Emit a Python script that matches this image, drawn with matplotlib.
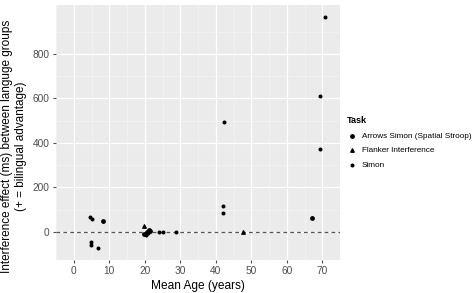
import numpy as np
import matplotlib.pyplot as plt

plt.rcParams['font.family'] = ['Liberation Sans', 'DejaVu Sans']

# data
arrows_age = [8.1, 19.8, 20.6, 21.2, 21.6, 67.0]
arrows_eff = [51, -8, 2, 9, 4, 61]

flanker_age = [19.9, 47.8]
flanker_eff = [28, -1]

simon_age = [4.7, 5.1, 4.9, 4.9, 6.9, 20.3, 21.0, 24.1, 25.0, 28.7, 42.4, 42.1, 42.1, 69.3, 69.3, 70.9]
simon_eff = [69, 60, -44, -58, -73, -12, -4, 0, -1, 2, 496, 115, 87, 613, 372, 968]

xticks = [0, 10, 20, 30, 40, 50, 60, 70]
yticks = [0, 200, 400, 600, 800]

fig = plt.figure(figsize=(4.76, 2.93), dpi=100)
ax = fig.add_axes([56 / 476, 33 / 293, 284 / 476, 255 / 293])
ax.set_facecolor('#EBEBEB')
for s in ax.spines.values():
    s.set_visible(False)

ax.set_xlim(-3.3, 74.5)
ax.set_ylim(-126, 1020)
ax.set_xticks(xticks)
ax.set_yticks(yticks)
ax.set_xticks([-5 + 10 * i for i in range(9)], minor=True)
ax.set_yticks([100, 300, 500, 700, 900], minor=True)
ax.grid(True, which='major', color='white', lw=0.9)
ax.grid(True, which='minor', color='#F5F5F5', lw=0.5)
ax.set_axisbelow(True)
ax.tick_params(which='major', length=2.5, color='#4D4D4D', labelsize=7.3, labelcolor='#4D4D4D', pad=2)
ax.tick_params(which='minor', length=0)

ax.axhline(0, color='#555555', lw=0.9, ls=(0, (3, 2.5)), zorder=2)

ax.scatter(arrows_age, arrows_eff, s=6, marker='o', color='black', zorder=3, label='Arrows Simon (Spatial Stroop)')
ax.scatter(flanker_age, flanker_eff, s=6, marker='^', color='black', zorder=3, label='Flanker Interference')
ax.scatter(simon_age, simon_eff, s=3.5, marker='o', color='black', zorder=3, label='Simon')

ax.set_xlabel('Mean Age (years)', fontsize=8.6, labelpad=3)
fig.text(14 / 476, 1 - 146 / 293,
         'Interference effect (ms) between languge groups\n(+ = bilingual advantage)',
         rotation=90, ha='center', va='center', fontsize=8.5, multialignment='center',
         linespacing=1.25)

leg = ax.legend(title='Task', loc='upper left', bbox_to_anchor=(343 / 476, 1 - 112 / 293),
                bbox_transform=fig.transFigure, frameon=False, fontsize=5.9,
                title_fontsize=6.6, handletextpad=0.6, labelspacing=0.85,
                borderpad=0, handlelength=1.2, markerscale=1.0)
leg.get_title().set_fontweight('bold')
leg._legend_box.align = 'left'

fig.savefig('out.png', dpi=100)
